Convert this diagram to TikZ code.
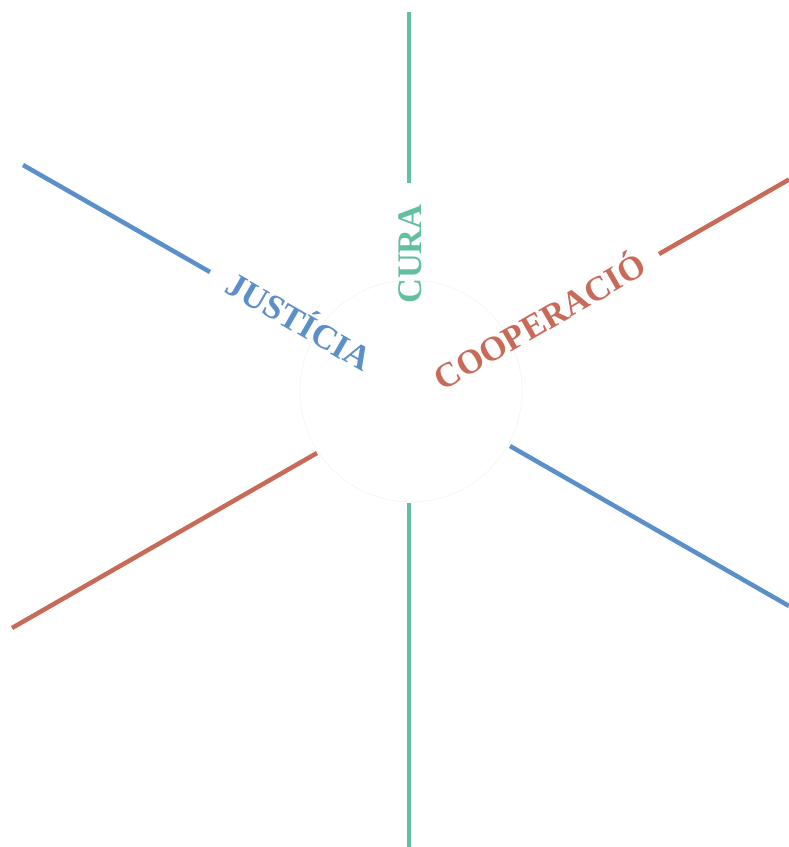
\documentclass[tikz,border=0pt]{standalone}
\usepackage{fontspec}
\setmainfont{Liberation Serif}
\usepackage{xcolor}

\definecolor{justblue}{RGB}{90,143,201}
\definecolor{curagreen}{RGB}{98,192,158}
\definecolor{coopred}{RGB}{200,106,88}

\begin{document}
\begin{tikzpicture}[
  x=1pt, y=-1pt,
  spoke/.style={line width=4.5pt},
  valuelabel/.style={
    font=\bfseries\fontsize{34.5}{35}\selectfont,
    inner sep=0pt,
    text height=23pt,
    text depth=0pt
  },
  hub/.style={draw=black!4, line width=0.8pt}
]
  \useasboundingbox (0,0) rectangle (789,847);

  % faint central ring
  \draw[hub] (411,391) circle (111);

  % care axis
  \draw[spoke,curagreen] (409,12) -- (409,183);
  \draw[spoke,curagreen] (409,503) -- (409,847);

  % justice axis
  \draw[spoke,justblue] (23,165) -- (210,272);
  \draw[spoke,justblue] (510,446) -- (789,606);

  % cooperation axis
  \draw[spoke,coopred] (659,254) -- (789,179.5);
  \draw[spoke,coopred] (317,453) -- (12,628);

  \node[valuelabel,text=justblue,rotate=-30] (justicia) at (299,322) {JUSTÍCIA};
  \node[valuelabel,text=curagreen,rotate=90] (cura) at (410,254) {CURA};
  \node[valuelabel,text=coopred,rotate=30] (cooperacio) at (540,322) {COOPERACIÓ};
\end{tikzpicture}
\end{document}
